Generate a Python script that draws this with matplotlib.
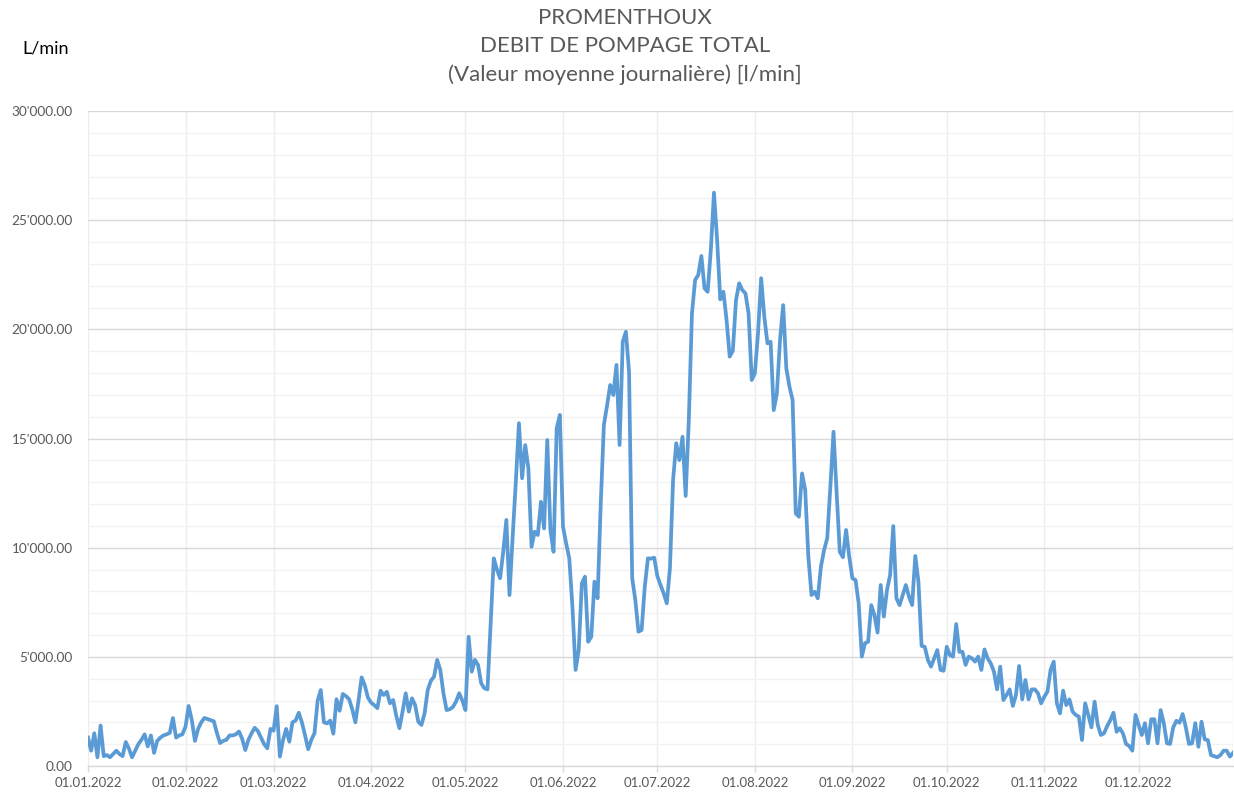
import matplotlib
matplotlib.use("Agg")
import matplotlib.pyplot as plt
import matplotlib.dates as mdates
from matplotlib.ticker import FuncFormatter, MultipleLocator
import numpy as np
import pandas as pd

# Daily mean pumping flow [l/min], 2022
jan = [1300, 700, 1500, 400, 1850, 450, 500, 400, 550, 700, 550, 450, 1100, 800, 400, 700,
       1000, 1200, 1450, 900, 1400, 600, 1150, 1300, 1400, 1450, 1520, 2200, 1300, 1400, 1450]
feb = [1800, 2750, 2100, 1150, 1700, 2000, 2200, 2150, 2100, 2050, 1500, 1050, 1150, 1200,
       1400, 1400, 1450, 1580, 1250, 730, 1200, 1500, 1750, 1600, 1300, 1000, 810, 1700]
mar = [1620, 2740, 430, 1190, 1700, 1110, 2000, 2080, 2440, 2000, 1400, 770, 1200, 1500, 2990,
       3480, 2000, 1950, 2080, 1480, 3060, 2530, 3300, 3200, 3060, 2600, 2000, 3000, 4060, 3690, 3130]
apr = [2900, 2790, 2650, 3450, 3250, 3400, 2870, 3020, 2300, 1730, 2500, 3330, 2490, 3100, 2790,
       2030, 1880, 2410, 3480, 3900, 4090, 4860, 4400, 3330, 2560, 2600, 2700, 2950, 3330, 3000]
may = [2560, 5920, 4320, 4860, 4630, 3790, 3560, 3510, 6500, 9510, 9000, 8600, 9800, 11270, 7830,
       10500, 13000, 15700, 13180, 14700, 13630, 10040, 10730, 10580, 12100, 10880, 14930, 10810,
       9810, 15470, 16080]
jun = [10960, 10200, 9510, 7300, 4400, 5310, 8370, 8670, 5690, 5920, 8440, 7680, 12000, 15620,
       16500, 17450, 16990, 18370, 14700, 19430, 19890, 18060, 8600, 7600, 6150, 6230, 8210, 9510,
       9500, 9540]
jul = [8700, 8290, 7910, 7450, 9060, 13100, 14780, 14010, 15080, 12370, 15850, 20730, 22260, 22490,
       23360, 21880, 21720, 23630, 26260, 24090, 21370, 21720, 20430, 18750, 19020, 21340, 22110,
       21800, 21650, 20730, 17680]
aug = [17990, 19820, 22340, 20580, 19360, 19430, 16300, 17070, 19510, 21110, 18210, 17370, 16760,
       11570, 11420, 13400, 12640, 9590, 7830, 7980, 7680, 9130, 9890, 10430, 12790, 15310, 12490,
       9810, 9560, 10810, 9590]
sep = [8600, 8520, 7450, 5010, 5620, 5690, 7370, 6920, 6110, 8290, 6840, 8060, 8750, 10990, 7680,
       7370, 7830, 8290, 7750, 7370, 9620, 8440, 5500, 5460, 4860, 4550, 4930, 5310, 4400, 4360]
oct_ = [5460, 5080, 5010, 6500, 5230, 5230, 4630, 5010, 4930, 4780, 5010, 4400, 5340, 4930, 4700,
        4320, 3510, 4550, 3020, 3250, 3510, 2750, 3250, 4580, 3050, 3940, 3050, 3510, 3510, 3330, 2870]
nov = [3170, 3400, 4400, 4780, 2870, 2410, 3450, 2790, 3050, 2490, 2340, 2260, 1190, 2870, 2340,
       1770, 2950, 1880, 1420, 1500, 1830, 2100, 2440, 1570, 1730, 1500, 1010, 920, 700, 2340]
dec = [1880, 1420, 1960, 1040, 2140, 2140, 1040, 2560, 1960, 1040, 1010, 1770, 2070, 1980, 2380,
       1770, 1010, 1040, 1960, 880, 2030, 1220, 1190, 500, 450, 400, 500, 700, 700, 430, 600]

values = jan + feb + mar + apr + may + jun + jul + aug + sep + oct_ + nov + dec
dates = pd.date_range("2022-01-01", periods=len(values), freq="D")

title_lines = ["PROMENTHOUX", "DEBIT DE POMPAGE TOTAL", "(Valeur moyenne journalière) [l/min]"]
y_unit = "L/min"

plt.rcParams["font.family"] = ["Lato", "DejaVu Sans"]

W, H = 1234, 794
fig = plt.figure(figsize=(W / 100, H / 100), dpi=100)
ax = fig.add_axes([88 / W, 1 - 766 / H, (1233 - 88) / W, (766 - 111) / H])

ax.plot(dates, values, color="#5B9BD5", lw=2.7, solid_joinstyle="round", zorder=3)

ax.set_ylim(0, 30000)
ax.set_xlim(pd.Timestamp("2022-01-01"), pd.Timestamp("2022-12-31"))

ax.yaxis.set_major_locator(MultipleLocator(5000))
ax.yaxis.set_minor_locator(MultipleLocator(1000))
ax.yaxis.set_major_formatter(FuncFormatter(lambda v, p: "{:,.2f}".format(v).replace(",", "'")))
ax.xaxis.set_major_locator(mdates.MonthLocator())
ax.xaxis.set_major_formatter(mdates.DateFormatter("%d.%m.%Y"))

ax.grid(axis="y", which="major", color="#D9D9D9", lw=1.0, zorder=0)
ax.grid(axis="y", which="minor", color="#F2F2F2", lw=1.0, zorder=0)
ax.grid(axis="x", which="major", color="#EDEDED", lw=1.0, zorder=0)
ax.axvline(ax.get_xlim()[1], color="#EDEDED", lw=1.0, zorder=0)

for s in ["top", "right", "left"]:
    ax.spines[s].set_visible(False)
ax.spines["bottom"].set_color("#D9D9D9")
ax.spines["bottom"].set_linewidth(1.0)

ax.tick_params(axis="y", which="both", length=0, pad=11, labelsize=9.8, labelcolor="#595959")
ax.tick_params(axis="x", which="major", length=4, width=1, color="#D9D9D9", pad=4,
               labelsize=9.5, labelcolor="#595959")

cx = 625 / W
fig.text(cx, 1 - 18 / H, title_lines[0], ha="center", va="center", fontsize=16, color="#595959")
fig.text(cx, 1 - 46 / H, title_lines[1], ha="center", va="center", fontsize=16, color="#595959")
fig.text(cx, 1 - 75 / H, title_lines[2], ha="center", va="center", fontsize=16, color="#595959")
fig.text(22 / W, 1 - 48 / H, y_unit, ha="left", va="center", fontsize=13, color="#000000")

fig.savefig("out.png", dpi=100, facecolor="white")
